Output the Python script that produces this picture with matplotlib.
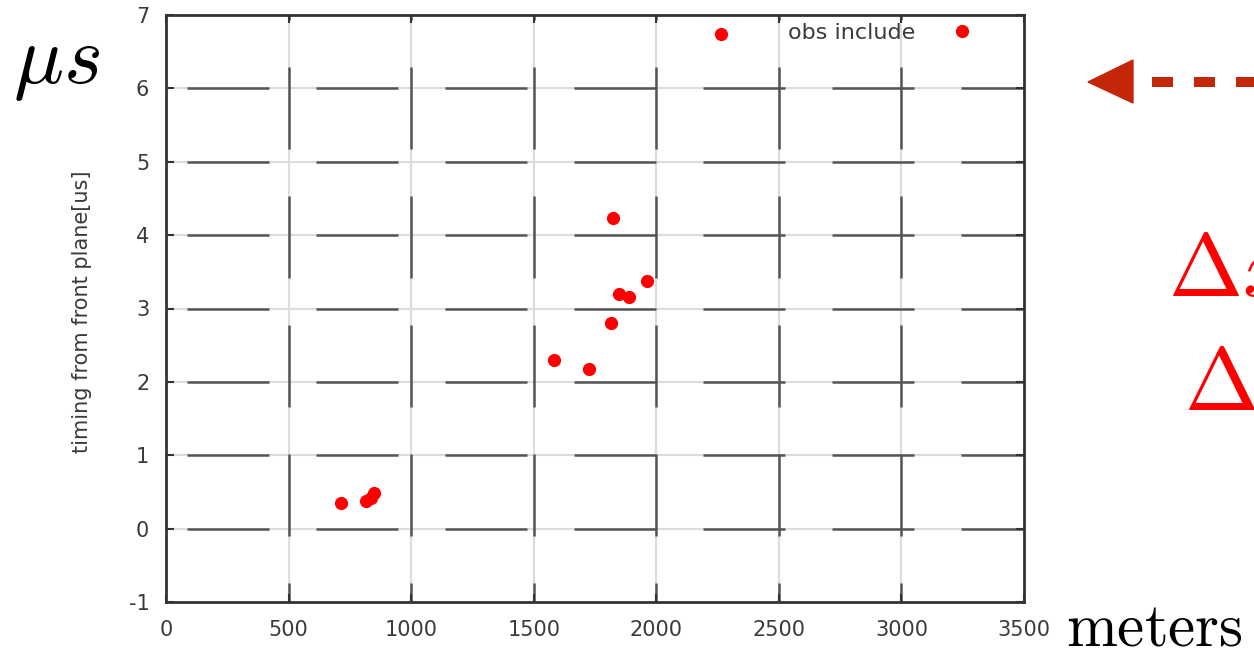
#!/usr/bin/env python3
"""Timing from front plane vs distance, gnuplot-style scatter on a slide."""

import matplotlib
matplotlib.use('Agg')
import matplotlib.pyplot as plt
from matplotlib.patches import Polygon
from matplotlib.lines import Line2D

plt.rcParams['font.family'] = ['DejaVu Sans']
plt.rcParams['mathtext.fontset'] = 'cm'
plt.rcParams['lines.scale_dashes'] = False
plt.rcParams['axes.unicode_minus'] = False

# distance [m] and timing from front plane [us]
dist = [714, 816, 836, 849, 1583, 1726, 1816, 1824, 1848, 1889, 1962, 2264]
timing = [0.35, 0.37, 0.42, 0.49, 2.30, 2.18, 2.80, 4.23, 3.20, 3.15, 3.37, 6.74]

x_ticks = [0, 500, 1000, 1500, 2000, 2500, 3000, 3500]
y_ticks = [-1, 0, 1, 2, 3, 4, 5, 6, 7]

W, H = 1254, 649
PX = 0.72  # points per pixel at dpi 100
TXT = '#3a3a3a'
DARK = '#555555'


def fx(px):
    return px / W


def fy(py):
    return 1 - py / H


def main():
    fig = plt.figure(figsize=(W / 100, H / 100), dpi=100)
    ax = fig.add_axes([fx(166), fy(602), fx(1024) - fx(166), fy(15) - fy(602)])

    ax.set_xlim(x_ticks[0], x_ticks[-1])
    ax.set_ylim(y_ticks[0], y_ticks[-1])
    ax.set_xticks(x_ticks)
    ax.set_yticks(y_ticks)

    # gnuplot-like grid: light solid line with dark dashes on top
    dash = (82 * PX, 47 * PX)
    for x in x_ticks[1:-1]:
        ax.axvline(x, color='#dcdcdc', lw=1.5, zorder=1)
        ax.axvline(x, color=DARK, lw=1.8, zorder=1.5,
                   linestyle=(63 * PX, dash))
    for y in y_ticks[1:-1]:
        ax.axhline(y, color='#dcdcdc', lw=1.5, zorder=1)
        ax.axhline(y, color=DARK, lw=1.8, zorder=1.5,
                   linestyle=(108 * PX, dash))

    ax.plot(dist, timing, 'o', color='#ff0000', markersize=9.5,
            markeredgewidth=0, label='obs include', zorder=3)

    for s in ax.spines.values():
        s.set_color('#333333')
        s.set_linewidth(2)
    ax.tick_params(direction='in', length=6, width=1.5, color='#333333',
                   top=True, right=True, labelsize=15, labelcolor=TXT)
    ax.tick_params(axis='x', pad=13)
    ax.tick_params(axis='y', pad=12)

    ax.set_ylabel('timing from front plane[us]', fontsize=15, color=TXT)
    ax.yaxis.set_label_coords(-0.086, 0.495)

    ax.legend(loc='center right', bbox_to_anchor=(0.9406, 0.9693),
              frameon=False, markerfirst=False, fontsize=16,
              handlelength=1.0, handletextpad=1.6, borderpad=0,
              borderaxespad=0, labelcolor=TXT)

    # slide annotations around the plot
    fig.text(fx(13), fy(83), r'$\mu s$', fontsize=60, va='baseline')
    fig.text(fx(1066), fy(645), r'$\mathrm{meters}$', fontsize=44,
             va='baseline')
    fig.text(fx(1168), fy(296), r'$\Delta x$', fontsize=64, color='#ff0000',
             va='baseline')
    fig.text(fx(1184), fy(410), r'$\Delta t$', fontsize=64, color='#ff0000',
             va='baseline')

    arrow_c = '#c4260a'
    head = Polygon([[fx(1088), fy(82)], [fx(1133), fy(60)], [fx(1133), fy(103)]],
                   closed=True, color=arrow_c, transform=fig.transFigure)
    fig.add_artist(head)
    shaft = Line2D([fx(1152), fx(1300)], [fy(82), fy(82)], color=arrow_c,
                   lw=10 * PX, linestyle=(0, (21 * PX, 21 * PX)),
                   solid_capstyle='butt', dash_capstyle='butt',
                   transform=fig.transFigure)
    fig.add_artist(shaft)

    fig.savefig('out.png', dpi=100)


if __name__ == '__main__':
    main()
